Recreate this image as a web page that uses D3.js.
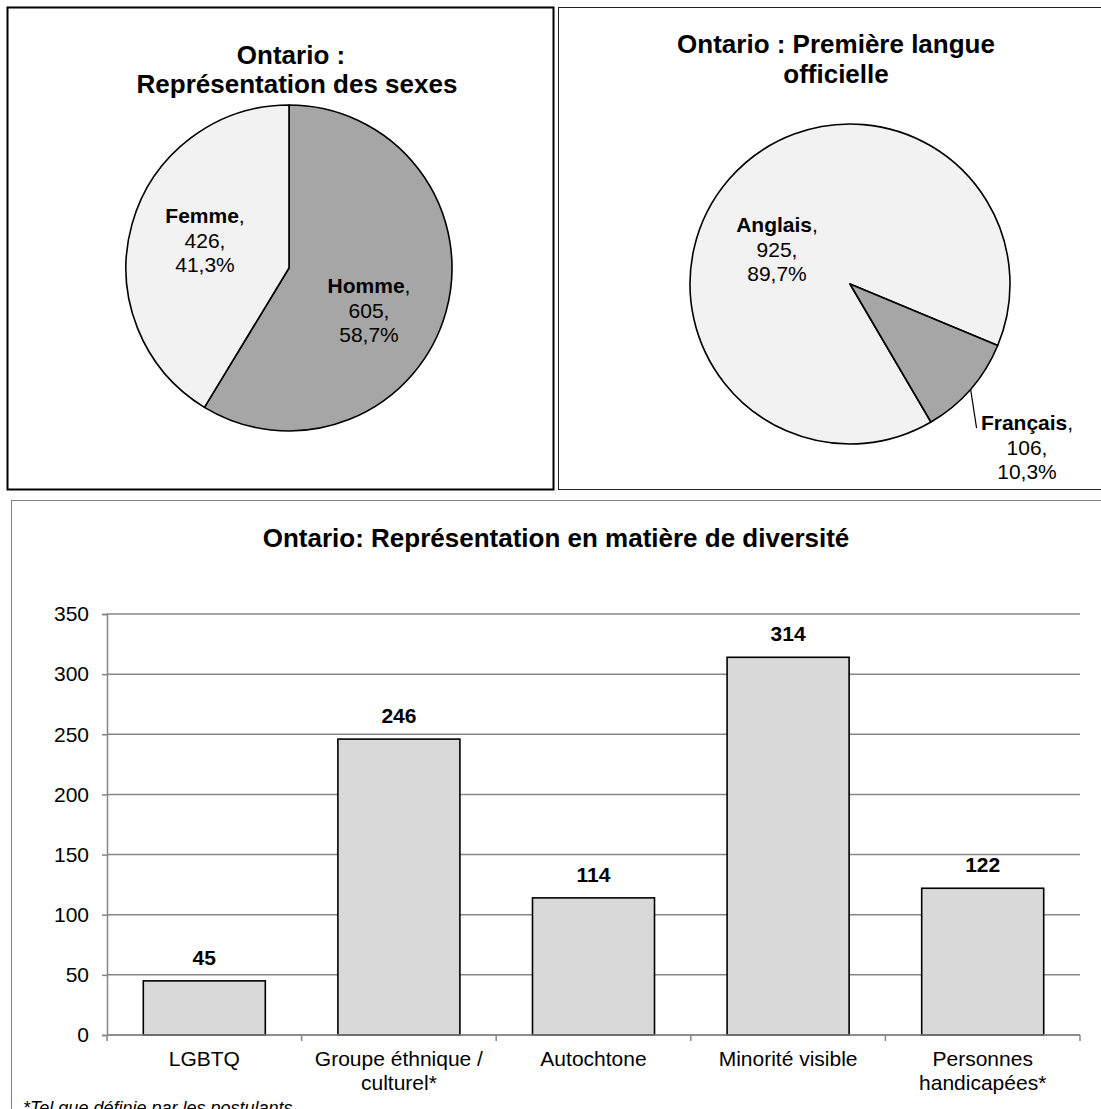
<!DOCTYPE html>
<html>
<head>
<meta charset="utf-8">
<script src="https://cdn.jsdelivr.net/npm/d3@7"></script>
<style>
  body { margin: 0; background: #fff; }
  svg { display: block; }
  text { font-family: "Liberation Sans", Arial, sans-serif; fill: #000; }
</style>
</head>
<body>
<svg id="chart" width="1101" height="1109"></svg>
<script>
// ---- data ----
const sexNames = ["Homme", "Femme"];
const sexCounts = [605, 426];
const sexPercents = ["58,7%", "41,3%"];

const langNames = ["Anglais", "Français"];
const langCounts = [925, 106];
const langPercents = ["89,7%", "10,3%"];

const groupNames = ["LGBTQ", "Groupe éthnique / culturel*", "Autochtone", "Minorité visible", "Personnes handicapées*"];
const groupLines = [["LGBTQ"], ["Groupe éthnique /", "culturel*"], ["Autochtone"], ["Minorité visible"], ["Personnes", "handicapées*"]];
const groupCounts = [45, 246, 114, 314, 122];
const yTickValues = [0, 50, 100, 150, 200, 250, 300, 350];

const svg = d3.select("#chart");
svg.append("rect").attr("width", 1101).attr("height", 1109).attr("fill", "#fff");

const deg = Math.PI / 180;
const lightFill = "#f2f2f2", darkFill = "#a6a6a6";

// ---- panel frames ----
svg.append("rect").attr("x", 7.5).attr("y", 7.5).attr("width", 546).attr("height", 482)
  .attr("fill", "none").attr("stroke", "#000").attr("stroke-width", 2);
svg.append("rect").attr("x", 558.5).attr("y", 7.5).attr("width", 560).attr("height", 482)
  .attr("fill", "none").attr("stroke", "#222").attr("stroke-width", 1);
svg.append("rect").attr("x", 11.5).attr("y", 500.5).attr("width", 1110).attr("height", 640)
  .attr("fill", "none").attr("stroke", "#7f7f7f").attr("stroke-width", 1);

// ---- helpers ----
function title(lines, cx, y0, step) {
  const t = svg.append("text").attr("text-anchor", "middle")
    .attr("font-size", 26).attr("font-weight", "bold");
  lines.forEach((s, i) => t.append("tspan").attr("x", cx[i]).attr("y", y0 + i * step).text(s));
}

function sliceLabel(name, count, pct, cx, y0) {
  const t = svg.append("text").attr("text-anchor", "middle").attr("font-size", 21);
  const l1 = t.append("tspan").attr("x", cx).attr("y", y0);
  l1.append("tspan").attr("font-weight", "bold").text(name);
  l1.append("tspan").text(",");
  t.append("tspan").attr("x", cx).attr("y", y0 + 24.5).text(count + ",");
  t.append("tspan").attr("x", cx).attr("y", y0 + 48.5).text(pct);
}

function drawPie(values, fills, cx, cy, r, start) {
  const pie = d3.pie().sort(null).startAngle(start).endAngle(start + 2 * Math.PI);
  const arc = d3.arc().innerRadius(0).outerRadius(r);
  const arcs = pie(values);
  svg.append("g").attr("transform", `translate(${cx},${cy})`)
    .selectAll("path").data(arcs).join("path")
    .attr("d", arc).attr("fill", (d, i) => fills[i])
    .attr("stroke", "#000").attr("stroke-width", 1.6).attr("stroke-linejoin", "round");
  return arcs;
}

// ---- pie 1 : sexes ----
title(["Ontario :", "Représentation des sexes"], [291, 297], 64, 29);
const p1 = { cx: 289, cy: 268, r: 163 };
drawPie(sexCounts, [darkFill, lightFill], p1.cx, p1.cy, p1.r, 0);
sliceLabel(sexNames[0], sexCounts[0], sexPercents[0], p1.cx + 80, p1.cy + 25);
sliceLabel(sexNames[1], sexCounts[1], sexPercents[1], p1.cx - 84, p1.cy - 45);

// ---- pie 2 : langue ----
title(["Ontario : Première langue", "officielle"], [836, 836], 53, 29.5);
const p2 = { cx: 850, cy: 284, r: 160 };
const langArcs = drawPie(langCounts, [lightFill, darkFill], p2.cx, p2.cy, p2.r, 149.6 * deg);
sliceLabel(langNames[0], langCounts[0], langPercents[0], p2.cx - 73, p2.cy - 52);
// leader line for the small slice
const fr = langArcs[1];
const midA = (fr.startAngle + fr.endAngle) / 2;
const edgeX = p2.cx + p2.r * Math.sin(midA), edgeY = p2.cy - p2.r * Math.cos(midA);
svg.append("line").attr("x1", edgeX).attr("y1", edgeY).attr("x2", edgeX + 6).attr("y2", edgeY + 39)
  .attr("stroke", "#000").attr("stroke-width", 1.2);
sliceLabel(langNames[1], langCounts[1], langPercents[1], 1027, 430);

// ---- bar chart : diversité ----
svg.append("text").attr("x", 556).attr("y", 547).attr("text-anchor", "middle")
  .attr("font-size", 26).attr("font-weight", "bold")
  .text("Ontario: Représentation en matière de diversité");

const plot = { left: 107, right: 1080, top: 614, bottom: 1035 };
const x = d3.scaleBand().domain(groupNames).range([plot.left, plot.right])
  .paddingInner(0.373).paddingOuter(0.1865);
const y = d3.scaleLinear().domain([0, 350]).range([plot.bottom, plot.top]);

const gridColor = "#868686";
// horizontal gridlines
svg.append("g").selectAll("line").data(yTickValues).join("line")
  .attr("x1", plot.left).attr("x2", plot.right)
  .attr("y1", d => y(d)).attr("y2", d => y(d))
  .attr("stroke", gridColor).attr("stroke-width", 1.5);

// y axis
const yAxis = svg.append("g").attr("transform", `translate(${plot.left},0)`)
  .call(d3.axisLeft(y).tickValues(yTickValues).tickSize(5).tickPadding(13));
yAxis.select(".domain").attr("stroke", gridColor).attr("stroke-width", 1.5);
yAxis.selectAll(".tick line").attr("stroke", gridColor).attr("stroke-width", 1.5);
yAxis.selectAll(".tick text").attr("font-size", 21).attr("fill", "#000")
  .attr("font-family", '"Liberation Sans", Arial, sans-serif');

// bars
svg.append("g").selectAll("rect").data(groupCounts).join("rect")
  .attr("x", (d, i) => x(groupNames[i]))
  .attr("y", d => y(d))
  .attr("width", x.bandwidth())
  .attr("height", d => y(0) - y(d))
  .attr("fill", "#d9d9d9").attr("stroke", "#000").attr("stroke-width", 1.6);

// x axis baseline with ticks between categories
svg.append("line").attr("x1", plot.left).attr("x2", plot.right)
  .attr("y1", y(0)).attr("y2", y(0)).attr("stroke", gridColor).attr("stroke-width", 1.5);
const bounds = d3.range(groupNames.length + 1).map(i => plot.left + i * x.step());
svg.append("g").selectAll("line").data(bounds).join("line")
  .attr("x1", d => d).attr("x2", d => d)
  .attr("y1", y(0)).attr("y2", y(0) + 6)
  .attr("stroke", gridColor).attr("stroke-width", 1.5);

// value labels
svg.append("g").selectAll("text").data(groupCounts).join("text")
  .attr("x", (d, i) => x(groupNames[i]) + x.bandwidth() / 2)
  .attr("y", d => y(d) - 16)
  .attr("text-anchor", "middle").attr("font-size", 21).attr("font-weight", "bold")
  .text(d => d);

// category labels
groupLines.forEach((lines, i) => {
  const t = svg.append("text").attr("text-anchor", "middle").attr("font-size", 21);
  const cx = x(groupNames[i]) + x.bandwidth() / 2;
  lines.forEach((s, j) => t.append("tspan").attr("x", cx).attr("y", 1066 + j * 24).text(s));
});

// footnote
svg.append("text").attr("x", 23).attr("y", 1114).attr("font-size", 18)
  .attr("font-style", "italic").text("*Tel que définie par les postulants");
</script>
</body>
</html>
